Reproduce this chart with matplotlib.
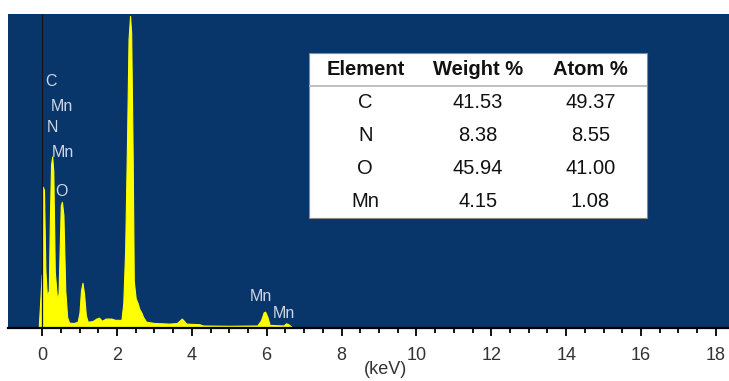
import numpy as np
import matplotlib
matplotlib.use("Agg")
import matplotlib.pyplot as plt
from matplotlib.patches import Rectangle

plt.rcParams['font.family'] = ['Liberation Sans', 'DejaVu Sans']

# spectrum: energy (keV) and counts (% of full scale)
energy = [-0.09, -0.01, 0.0, 0.02, 0.05, 0.09, 0.13, 0.18, 0.21, 0.24, 0.27,
          0.30, 0.34, 0.40, 0.44, 0.47, 0.50, 0.53, 0.57, 0.62, 0.67, 0.72,
          0.85, 0.95, 1.0, 1.04, 1.08, 1.12, 1.17, 1.22, 1.35, 1.45, 1.52,
          1.6, 1.7, 1.85, 1.95, 2.12, 2.17, 2.22, 2.27, 2.31, 2.35, 2.38,
          2.42, 2.45, 2.5, 2.55, 2.6, 2.65, 2.7, 2.78, 3.0, 3.4, 3.6, 3.68,
          3.73, 3.78, 3.85, 4.2, 4.3, 5.0, 5.75, 5.85, 5.92, 5.96, 6.02,
          6.08, 6.45, 6.52, 6.58, 6.65, 6.68]
counts = [0, 17, 6, 45, 44, 18, 10, 12, 35, 52, 54.6,
          50, 18, 9, 11, 25, 39, 40.2, 36, 12, 3.5, 1.7,
          1.6, 2, 5, 12, 14.4, 11, 4, 2, 2.2, 3, 3.3,
          2.3, 3, 3, 2.6, 2.6, 8, 25, 60, 92, 99.4, 94,
          55, 15, 9.5, 8, 6, 5, 3.5, 2, 1.6, 1.4, 1.6, 2.4,
          3, 2.4, 1.4, 1.2, 0.8, 0.7, 0.8, 2.5, 5, 5.2, 3.5,
          1, 0.8, 1.5, 1.2, 0.5, 0]

peak_labels = ['C', 'Mn', 'N', 'Mn', 'O', 'Mn', 'Mn']
label_x = [0.09, 0.22, 0.12, 0.26, 0.35, 5.56, 6.15]
label_y = [78.5, 70.5, 63.7, 56, 43.5, 10, 4.6]

table_cols = ['Element', 'Weight %', 'Atom %']
elements = ['C', 'N', 'O', 'Mn']
weight_pct = ['41.53', '8.38', '45.94', '4.15']
atom_pct = ['49.37', '8.55', '41.00', '1.08']

fig = plt.figure(figsize=(7.29, 3.81), dpi=100)
ax = fig.add_axes([8 / 729, 53 / 381, 721 / 729, 314 / 381])
ax.set_facecolor('#08356a')

ax.fill_between(energy, counts, 0, color='#ffff00', lw=0.8, zorder=2)
ax.axvline(0, color='#151515', lw=0.9, zorder=3)

for t, x, y in zip(peak_labels, label_x, label_y):
    ax.text(x, y, t, color='#d0d7e4', fontsize=11.5, va='center', ha='left')

ax.set_xlim(-0.91, 18.35)
ax.set_ylim(0, 100)
ax.set_xticks(np.arange(0, 19, 2))
ax.set_xticks(np.arange(0, 18.5, 0.5), minor=True)
ax.set_yticks([])
for s in ['top', 'right', 'left']:
    ax.spines[s].set_visible(False)
ax.spines['bottom'].set_linewidth(1.6)
ax.tick_params(axis='x', which='major', length=6, width=1.3, pad=8,
               labelsize=13, labelcolor='#333333')
ax.tick_params(axis='x', which='minor', length=3.5, width=1.3)
ax.set_xlabel('(keV)', fontsize=13, color='#333333')
ax.xaxis.set_label_coords(0.523, -0.105)

# results table
bx, by, bw, bh = 0.4175, 0.35, 0.4685, 0.526
ax.add_patch(Rectangle((bx, by), bw, bh, transform=ax.transAxes,
                       facecolor='white', edgecolor='#8a8a8a', lw=0.8, zorder=4))
rows = [list(r) for r in zip(elements, weight_pct, atom_pct)]
tbl = ax.table(cellText=rows, colLabels=table_cols, cellLoc='center',
               bbox=[bx, by, bw, bh], edges='open')
tbl.set_zorder(5)
tbl.auto_set_font_size(False)
tbl.set_fontsize(14.5)
for (r, c), cell in tbl.get_celld().items():
    cell.get_text().set_color('#111111')
    if r == 0:
        cell.visible_edges = 'B'
        cell.set_edgecolor('#b5b5b5')
        cell.set_linewidth(1.2)
        cell.get_text().set_fontweight('bold')

fig.savefig('out.png', dpi=100, facecolor='white')
